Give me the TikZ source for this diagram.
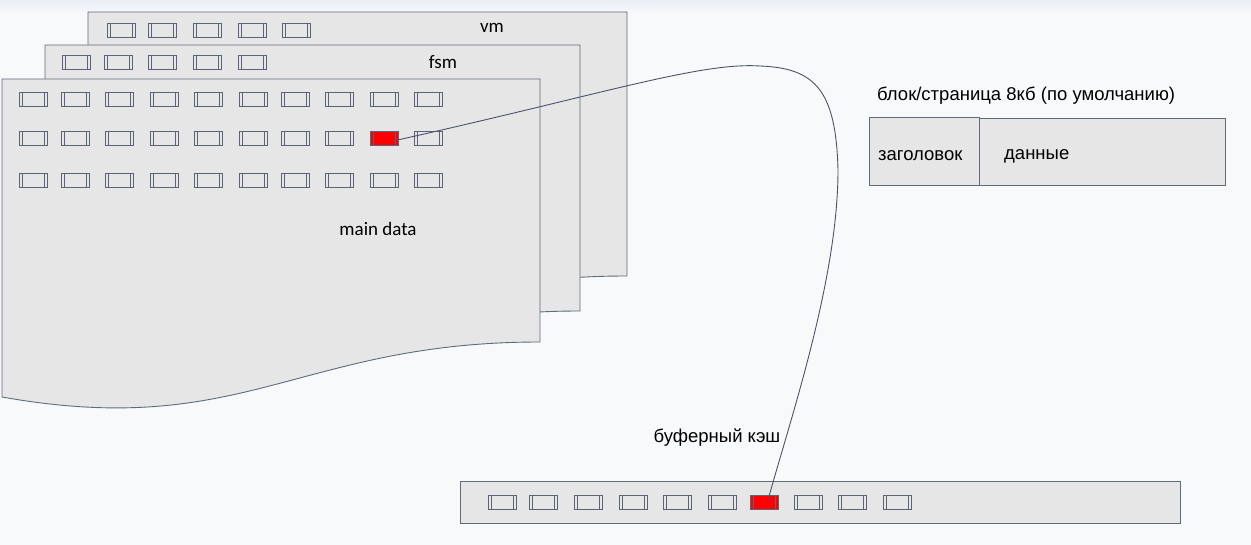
\documentclass[tikz,border=0pt]{standalone}
\usepackage{fontspec}
\setmainfont{Liberation Sans}
\newfontfamily\calfont{Carlito}
\definecolor{bg}{HTML}{F8F9FB}
\definecolor{bgtop}{HTML}{E9EFF5}
\definecolor{pagefill}{HTML}{E6E6E6}
\definecolor{edge}{HTML}{5F6B7D}
\definecolor{celledge}{HTML}{5A6476}
\definecolor{linkcol}{HTML}{4A5468}
\tikzset{
  cellbox/.style={draw=celledge, line width=0.9pt, minimum width=28pt, minimum height=14pt,
    inner sep=0pt, fill=pagefill,
    path picture={\draw[celledge, line width=0.6pt]
      ([xshift=3pt]path picture bounding box.north west) -- ([xshift=3pt]path picture bounding box.south west)
      ([xshift=-3pt]path picture bounding box.north east) -- ([xshift=-3pt]path picture bounding box.south east);}},
  hot/.style={fill=red},
  pagebox/.style={draw=edge, fill=pagefill, line width=0.9pt},
  lbl/.style={font=\fontsize{18.5}{21}\selectfont, inner sep=0pt, text=black},
  enlbl/.style={font=\calfont\fontsize{19}{21}\selectfont, inner sep=0pt, text=black},
  link/.style={draw=linkcol, line width=0.9pt},
}
\begin{document}
\begin{tikzpicture}[x=1pt,y=-1pt]
\fill[bg] (0,0) rectangle (1251,545);
\shade[top color=bgtop, bottom color=bg] (0,0) rectangle (1251,14);
\useasboundingbox (0,0) rectangle (1251,545);

% vm page
\path[pagebox] (88,12) -- (627,12) -- (627,276) .. controls (384,276) and (331,376) .. (88,334) -- cycle;
\foreach \x [count=\i] in {121,162,207,252,296} \node[cellbox] (v\i) at (\x,30) {};
\node[enlbl] (vm) at (492,28) {vm};

% fsm page
\path[pagebox] (45,45) -- (580,45) -- (580,311) .. controls (339,311) and (286,411) .. (45,369) -- cycle;
\foreach \x [count=\i] in {76,118,162,207,252} \node[cellbox] (f\i) at (\x,62) {};
\node[enlbl] (fsm) at (443,62) {fsm};

% main page
\path[pagebox] (2,79) -- (540,79) -- (540,342) .. controls (298,342) and (244,440) .. (2,397) -- cycle;
\foreach \y [count=\r] in {99,138,180}
  \foreach \x [count=\i] in {33,75,119,164,208,253,295,339,384,428}
    \node[cellbox] (m\r-\i) at (\x,\y) {};
\node[cellbox, hot] (hotA) at (384,138) {};
\node[enlbl] (main) at (378,229) {main data};

% page block
\node[lbl, anchor=west] (blocklbl) at (877,96) {блок/страница 8кб (по умолчанию)};
\node[pagebox, minimum width=110pt, minimum height=68pt, anchor=north west, inner sep=0pt] (hdr) at (869,117) {};
\node[pagebox, minimum width=246pt, minimum height=67pt, anchor=north west, inner sep=0pt] (dat) at (979,118) {};
\node[lbl, anchor=west] (hdrlbl) at (878,156) {заголовок};
\node[lbl, anchor=west] (datlbl) at (1004,156) {данные};

% buffer cache
\node[lbl] (buflbl) at (717,438) {буферный кэш};
\node[pagebox, minimum width=720pt, minimum height=42pt, anchor=north west, inner sep=0pt] (buf) at (460,481) {};
\foreach \x [count=\i] in {502,543,588,633,677,722,764,808,852,897} \node[cellbox] (b\i) at (\x,502) {};
\node[cellbox, hot] (hotB) at (764,502) {};

% connector
\draw[link] ([xshift=9pt,yshift=-3pt]hotA.center) .. controls (600,95) and (700,62) .. (760,66)
  .. controls (815,68) and (836,90) .. (838,170)
  .. controls (838,280) and (790,420) .. ([xshift=4pt,yshift=2pt]hotB.center);
\end{tikzpicture}
\end{document}
